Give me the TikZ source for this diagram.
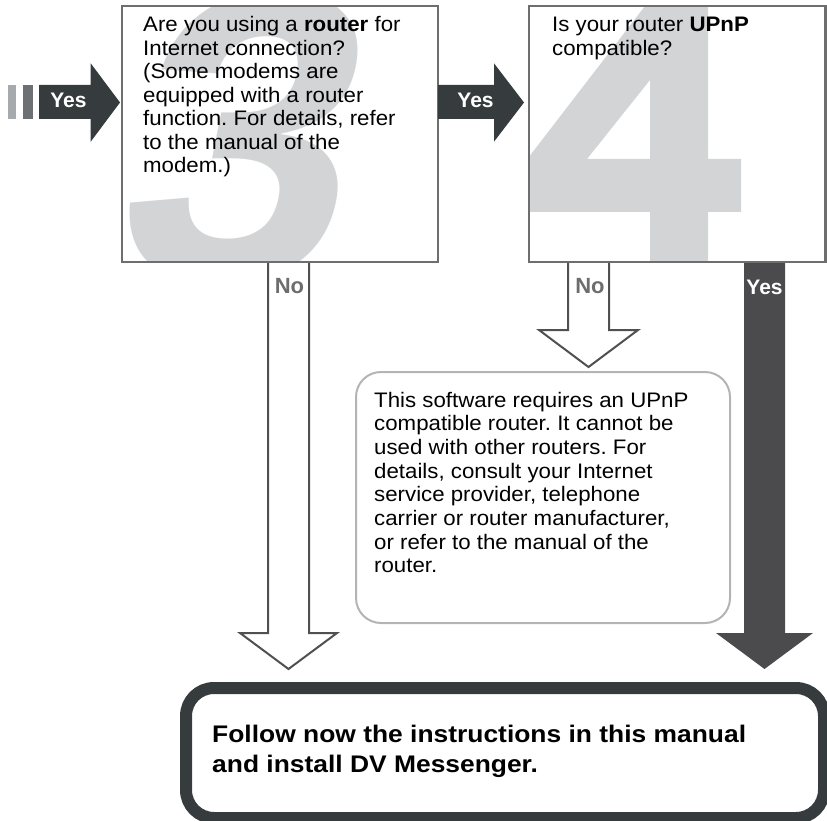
\documentclass[tikz,border=0pt]{standalone}
\usepackage{fontspec}
\setmainfont{Liberation Sans}
\newfontfamily\bodyfont[FakeStretch=1.06]{Liberation Sans}
\newfontfamily\finalfont[FakeStretch=1.1]{Liberation Sans}
\newfontfamily\digitfont[FakeSlant=0.2]{Liberation Sans}
\definecolor{darkarrow}{HTML}{363C3E}
\definecolor{yesgray}{HTML}{4B4B4D}
\definecolor{barlight}{HTML}{A7AAAD}
\definecolor{barmid}{HTML}{6D7174}
\definecolor{boxline}{HTML}{6E6E6E}
\definecolor{outlinegray}{HTML}{505050}
\definecolor{infoline}{HTML}{B4B4B4}
\definecolor{digitgray}{HTML}{D3D4D6}
\definecolor{nogray}{HTML}{6D6D6D}
\frenchspacing
\begin{document}
\begin{tikzpicture}[x=1pt,y=-1pt,
  qbox/.style={draw=boxline, line width=2.3pt, outer sep=0pt, inner sep=0pt, anchor=north west},
  bodytext/.style={anchor=base west, inner sep=0pt},
  yeslabel/.style={anchor=base, inner sep=0pt, text=white, font=\fontsize{21}{21}\selectfont\bfseries},
  nolabel/.style={anchor=base, inner sep=0pt, text=nogray, font=\fontsize{22}{22}\selectfont\bfseries},
  hollowarrow/.style={draw=outlinegray, line width=2pt, fill=white, line join=miter},
]
\useasboundingbox (0,0) rectangle (827,821);

% big background digits
\begin{scope}
  \clip (122,6) rectangle (438,262);
  \node[anchor=base west, inner sep=0pt, text=digitgray] (digit3) at (105,280)
    {\digitfont\bfseries\fontsize{414}{414}\selectfont 3};
\end{scope}
\begin{scope}
  \clip (529,6) rectangle (826,262);
  \fill[digitgray, even odd rule]
    (657.3,-10) -- (708,-10) -- (708,159) -- (741,159) -- (741,212) -- (708,212)
    -- (708,270) -- (650,270) -- (650,212) -- (486.6,212) -- cycle
    (650,80) -- (587,159) -- (650,159) -- cycle;
\end{scope}

% question boxes
\node[qbox, minimum width=316pt, minimum height=256pt] (q3) at (122,6) {};
\node[qbox, minimum width=296.5pt, minimum height=256pt] (q4) at (529,6) {};

\node[bodytext] (q3text) at (143,32) {\parbox[t]{290pt}{\raggedright\bodyfont\fontsize{21}{23.5}\selectfont
Are you using a \textbf{router} for\\
Internet connection?\\
(Some modems are\\
equipped with a router\\
function. For details, refer\\
to the manual of the\\
modem.)}};

\node[bodytext] (q4text) at (552,32) {\parbox[t]{270pt}{\raggedright\bodyfont\fontsize{21}{23.5}\selectfont
Is your router \textbf{UPnP}\\
compatible?}};

% incoming arrow
\fill[barlight] (8.3,85) rectangle (16,119);
\fill[barmid] (22.7,85) rectangle (33.3,119);
\coordinate (intip) at (120,102.5);
\fill[darkarrow] (39,85) -- (90.7,85) -- (90.7,63.3) -- (intip) -- (90.7,141.7) -- (90.7,119) -- (39,119) -- cycle;
\node[yeslabel] (yes1) at (68.5,108) {Yes};

% arrow box3 -> box4
\coordinate (midtip) at (524,102.5);
\fill[darkarrow] (438,85) -- (494,85) -- (494,63.3) -- (midtip) -- (494,141.7) -- (494,119) -- (438,119) -- cycle;
\node[yeslabel] (yes2) at (475.5,108) {Yes};

% No arrow from box3
\coordinate (notip1) at (288.5,669);
\draw[hollowarrow] (268,263) -- (268,633) -- (240,633) -- (notip1) -- (337,633) -- (309,633) -- (309,263);
\node[nolabel] (no1) at (289.5,293) {No};

% No arrow from box4
\coordinate (notip2) at (588.5,367);
\draw[hollowarrow] (568,263) -- (568,330) -- (539,330) -- (notip2) -- (638,330) -- (609,330) -- (609,263);
\node[nolabel] (no2) at (590,293) {No};

% Yes arrow from box4
\coordinate (yestip) at (764.5,669);
\fill[yesgray] (744,263.2) -- (744,633) -- (716,633) -- (yestip) -- (813,633) -- (785,633) -- (785,263.2) -- cycle;
\node[yeslabel] (yes3) at (764.5,294.5) {Yes};

% info box
\node[draw=infoline, line width=2pt, rounded corners=25pt, outer sep=0pt, inner sep=0pt,
  minimum width=374pt, minimum height=251pt, anchor=north west] (info) at (356,372) {};
\node[bodytext] (infotext) at (374,407) {\parbox[t]{345pt}{\raggedright\bodyfont\fontsize{21}{23.7}\selectfont
This software requires an UPnP\\
compatible router. It cannot be\\
used with other routers. For\\
details, consult your Internet\\
service provider, telephone\\
carrier or router manufacturer,\\
or refer to the manual of the\\
router.}};

% final box
\node[draw=darkarrow, line width=12pt, rounded corners=28pt, outer sep=0pt, inner sep=0pt,
  minimum width=638pt, minimum height=130pt, anchor=north west] (final) at (186,688) {};
\node[bodytext] (finaltext) at (212,742) {\parbox[t]{600pt}{\raggedright\finalfont\bfseries\fontsize{24}{30}\selectfont
Follow now the instructions in this manual\\
and install DV Messenger.}};
\end{tikzpicture}
\end{document}
